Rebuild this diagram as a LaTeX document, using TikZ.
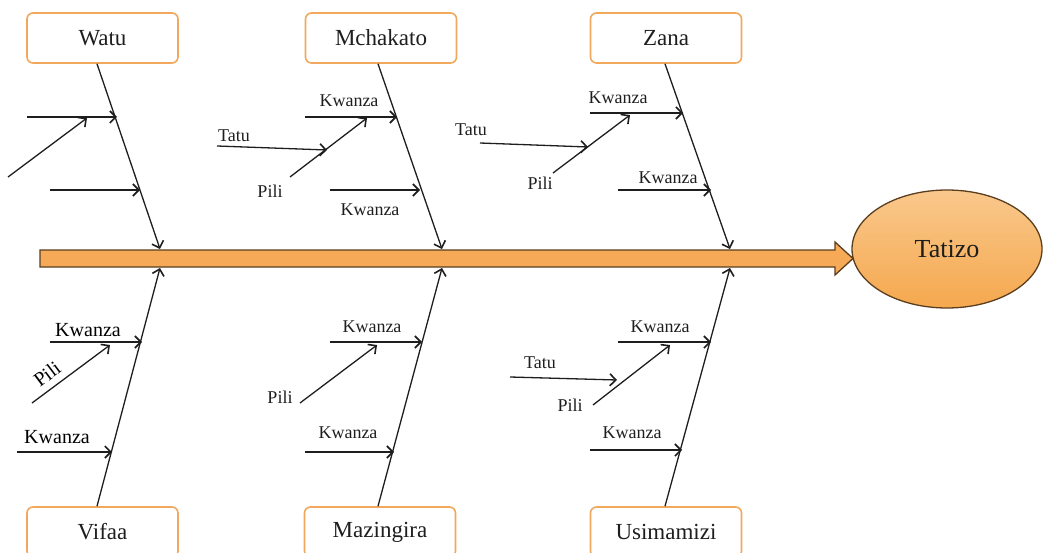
\documentclass[tikz,border=0pt]{standalone}
\usepackage{fontspec}
\setmainfont{Liberation Serif}
\usetikzlibrary{arrows.meta,shapes.geometric}

\definecolor{boxline}{RGB}{242,168,92}
\definecolor{spinefill}{RGB}{246,170,88}
\definecolor{spineline}{RGB}{90,62,30}
\definecolor{blobtop}{RGB}{249,200,140}
\definecolor{blobbot}{RGB}{245,168,78}
\definecolor{ink}{RGB}{30,30,30}

\tikzset{
  catbox/.style={draw=boxline, line width=1.6pt, fill=white, rounded corners=6pt,
    minimum width=151pt, minimum height=50pt, inner sep=0pt,
    font=\fontsize{23}{26}\selectfont, text=ink},
  bone/.style={draw=ink, line width=1.3pt, -{Straight Barb[length=6pt,width=12pt,line width=1.6pt]}},
  twig/.style={draw=ink, line width=1.3pt, -{Straight Barb[length=6pt,width=12pt,line width=1.6pt]}},
  lbl/.style={inner sep=0pt, font=\fontsize{18}{20}\selectfont, text=ink},
  lblb/.style={inner sep=0pt, font=\fontsize{20}{22}\selectfont, text=black},
}

\begin{document}
\begin{tikzpicture}[x=1pt,y=-1pt]
\useasboundingbox (0,0) rectangle (1043,553);

% main spine (block arrow)
\draw[fill=spinefill, draw=spineline, line width=1.3pt, line join=miter]
  (40,250) -- (835,250) -- (835,242) -- (853,258.5) -- (835,275) -- (835,267) -- (40,267) -- cycle;

% effect
\node[ellipse, draw=spineline, line width=1.3pt, top color=blobtop, bottom color=blobbot,
  minimum width=190pt, minimum height=118pt, inner sep=0pt,
  font=\fontsize{26}{29}\selectfont, text=ink] (tatizo) at (947,249) {Tatizo};

% category boxes
\node[catbox] (watu)  at (102.5,38) {Watu};
\node[catbox] (mchak) at (381,38)   {Mchakato};
\node[catbox] (zana)  at (666,38)   {Zana};
\node[catbox] (vifaa) at (102.5,532) {Vifaa};
\node[catbox] (mazin) at (380,532)   {Mazingira};
\node[catbox] (usima) at (666,532)   {Usimamizi};

% bone ends on the spine
\coordinate (sWatu)  at (160,249);
\coordinate (sMchak) at (442,249);
\coordinate (sZana)  at (730,249);
\coordinate (sVifaa) at (160,268);
\coordinate (sMazin) at (442,268);
\coordinate (sUsima) at (730,268);

\draw[bone] (watu.south -| 97,0)   -- (sWatu);
\draw[bone] (mchak.south -| 378,0) -- (sMchak);
\draw[bone] (zana.south -| 665,0)  -- (sZana);
\draw[bone] (vifaa.north -| 97,0)  -- (sVifaa);
\draw[bone] (mazin.north -| 378,0) -- (sMazin);
\draw[bone] (usima.north -| 665,0) -- (sUsima);

% ---- Watu ----
\coordinate (w1a) at (27,117);  \coordinate (w1b) at (117,117);
\coordinate (w2a) at (8,177);   \coordinate (w2b) at (87,118);
\coordinate (w3a) at (50,190);  \coordinate (w3b) at (140,190);
\draw[twig] (w1a) -- (w1b);
\draw[twig] (w2a) -- (w2b);
\draw[twig] (w3a) -- (w3b);

% ---- Mchakato ----
\coordinate (m1a) at (305,117); \coordinate (m1b) at (397,117);
\coordinate (m2a) at (290,177); \coordinate (m2b) at (367,118);
\coordinate (m3a) at (217,146); \coordinate (m3b) at (327,150);
\coordinate (m4a) at (330,190); \coordinate (m4b) at (420,190);
\draw[twig] (m1a) -- (m1b);
\draw[twig] (m2a) -- (m2b);
\draw[twig] (m3a) -- (m3b);
\draw[twig] (m4a) -- (m4b);
\node[lbl] (mk1) at (349,101) {Kwanza};
\node[lbl] (mt)  at (234,136) {Tatu};
\node[lbl] (mp)  at (270,191) {Pili};
\node[lbl] (mk2) at (370,210) {Kwanza};

% ---- Zana ----
\coordinate (z1a) at (590,113); \coordinate (z1b) at (683,113);
\coordinate (z2a) at (553,173); \coordinate (z2b) at (630,115);
\coordinate (z3a) at (480,143); \coordinate (z3b) at (588,147);
\coordinate (z4a) at (618,190); \coordinate (z4b) at (711,190);
\draw[twig] (z1a) -- (z1b);
\draw[twig] (z2a) -- (z2b);
\draw[twig] (z3a) -- (z3b);
\draw[twig] (z4a) -- (z4b);
\node[lbl] (zk1) at (618,98)  {Kwanza};
\node[lbl] (zt)  at (471,130) {Tatu};
\node[lbl] (zp)  at (540,183) {Pili};
\node[lbl] (zk2) at (668,178) {Kwanza};

% ---- Vifaa ----
\coordinate (v1a) at (50,342);  \coordinate (v1b) at (142,342);
\coordinate (v2a) at (32,403);  \coordinate (v2b) at (110,345);
\coordinate (v3a) at (17,452);  \coordinate (v3b) at (112,452);
\draw[twig] (v1a) -- (v1b);
\draw[twig] (v2a) -- (v2b);
\draw[twig] (v3a) -- (v3b);
\node[lblb] (vk1) at (88,330) {Kwanza};
\node[lblb, rotate=37] (vp) at (47,374) {Pili};
\node[lblb] (vk2) at (57,437) {Kwanza};

% ---- Mazingira ----
\coordinate (a1a) at (330,342); \coordinate (a1b) at (422,342);
\coordinate (a2a) at (300,403); \coordinate (a2b) at (377,345);
\coordinate (a3a) at (305,452); \coordinate (a3b) at (394,452);
\draw[twig] (a1a) -- (a1b);
\draw[twig] (a2a) -- (a2b);
\draw[twig] (a3a) -- (a3b);
\node[lbl] (ak1) at (372,327) {Kwanza};
\node[lbl] (ap)  at (280,397) {Pili};
\node[lbl] (ak2) at (348,433) {Kwanza};

% ---- Usimamizi ----
\coordinate (u1a) at (618,342); \coordinate (u1b) at (711,342);
\coordinate (u2a) at (593,405); \coordinate (u2b) at (670,345);
\coordinate (u3a) at (510,377); \coordinate (u3b) at (617,380);
\coordinate (u4a) at (590,450); \coordinate (u4b) at (682,450);
\draw[twig] (u1a) -- (u1b);
\draw[twig] (u2a) -- (u2b);
\draw[twig] (u3a) -- (u3b);
\draw[twig] (u4a) -- (u4b);
\node[lbl] (uk1) at (660,327) {Kwanza};
\node[lbl] (ut)  at (540,363) {Tatu};
\node[lbl] (up)  at (570,405) {Pili};
\node[lbl] (uk2) at (632,433) {Kwanza};
\end{tikzpicture}
\end{document}
